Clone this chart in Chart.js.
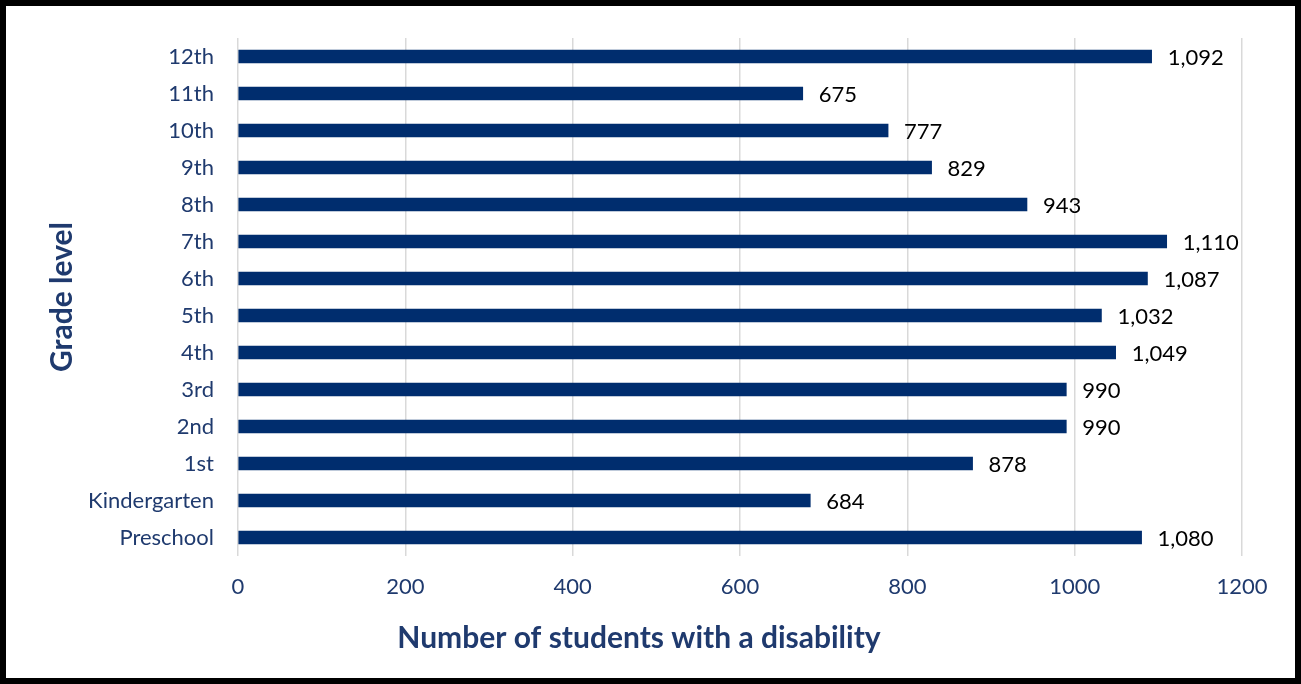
<!DOCTYPE html>
<html>
<head>
<meta charset="utf-8">
<script src="https://cdn.jsdelivr.net/npm/chart.js@4"></script>
<style>
  html, body { margin: 0; padding: 0; background: #fff; }
  #wrap { width: 1301px; height: 684px; }
</style>
</head>
<body>
<div id="wrap"><canvas id="grades"></canvas></div>
<script>
var grades = ["Preschool", "Kindergarten", "1st", "2nd", "3rd", "4th", "5th", "6th", "7th", "8th", "9th", "10th", "11th", "12th"];
var students = [1080, 684, 878, 990, 990, 1049, 1032, 1087, 1110, 943, 829, 777, 675, 1092];
var xTicks = [0, 200, 400, 600, 800, 1000, 1200];
var xTitle = "Number of students with a disability";

var navy = "#002D6E";
var labelBlue = "#1F3A6E";
var font = "Lato, 'Open Sans', sans-serif";

// value labels at the end of each bar
var barLabels = {
  id: "barLabels",
  afterDatasetsDraw: function (chart) {
    var ctx = chart.ctx;
    var meta = chart.getDatasetMeta(0);
    ctx.save();
    ctx.fillStyle = "#000";
    ctx.font = "22px " + font;
    ctx.textAlign = "left";
    ctx.textBaseline = "middle";
    meta.data.forEach(function (bar, i) {
      ctx.fillText(students[i].toLocaleString("en-US"), bar.x + 16, bar.y + 1);
    });
    ctx.restore();
  }
};

// x title sits a bit left of the plot centre, like the original
// plus the black frame round the picture
var decor = {
  id: "decor",
  afterDraw: function (chart) {
    var ctx = chart.ctx;
    ctx.save();
    ctx.fillStyle = labelBlue;
    ctx.font = "bold 30px " + font;
    ctx.textAlign = "center";
    ctx.textBaseline = "middle";
    ctx.fillText(xTitle, 639, 638);

    ctx.strokeStyle = "#000";
    ctx.lineWidth = 6;
    ctx.strokeRect(3, 3, chart.width - 6, chart.height - 6);
    ctx.restore();
  }
};

var ctx = document.getElementById("grades");
var gradeChart = new Chart(ctx, {
  type: "bar",
  data: {
    labels: grades,
    datasets: [{
      label: "Students with a disability",
      data: students,
      backgroundColor: navy,
      barThickness: 13
    }]
  },
  options: {
    indexAxis: "y",
    responsive: true,
    maintainAspectRatio: false,
    animation: false,
    layout: { padding: { top: 38, right: 59, left: 0, bottom: 0 } },
    plugins: {
      legend: { display: false },
      tooltip: { enabled: false }
    },
    scales: {
      x: {
        min: 0,
        max: 1200,
        afterBuildTicks: function (scale) {
          scale.ticks = xTicks.map(function (v) { return { value: v }; });
        },
        afterFit: function (scale) { scale.height = 128; },
        grid: { color: "#D9D9D9", lineWidth: 1.5, drawTicks: false },
        border: { display: false },
        ticks: {
          color: labelBlue,
          font: { family: font, size: 22 },
          padding: 18,
          callback: function (v) { return String(v); }
        }
      },
      y: {
        reverse: true,
        afterFit: function (scale) { scale.width = 238; },
        grid: { display: false, drawTicks: false },
        border: { display: false },
        ticks: { color: labelBlue, font: { family: font, size: 22 }, padding: 24 },
        title: {
          display: true,
          text: "Grade level",
          color: labelBlue,
          font: { family: font, size: 30, weight: "bold" },
          padding: { top: 44 }
        }
      }
    }
  },
  plugins: [barLabels, decor]
});
</script>
</body>
</html>
